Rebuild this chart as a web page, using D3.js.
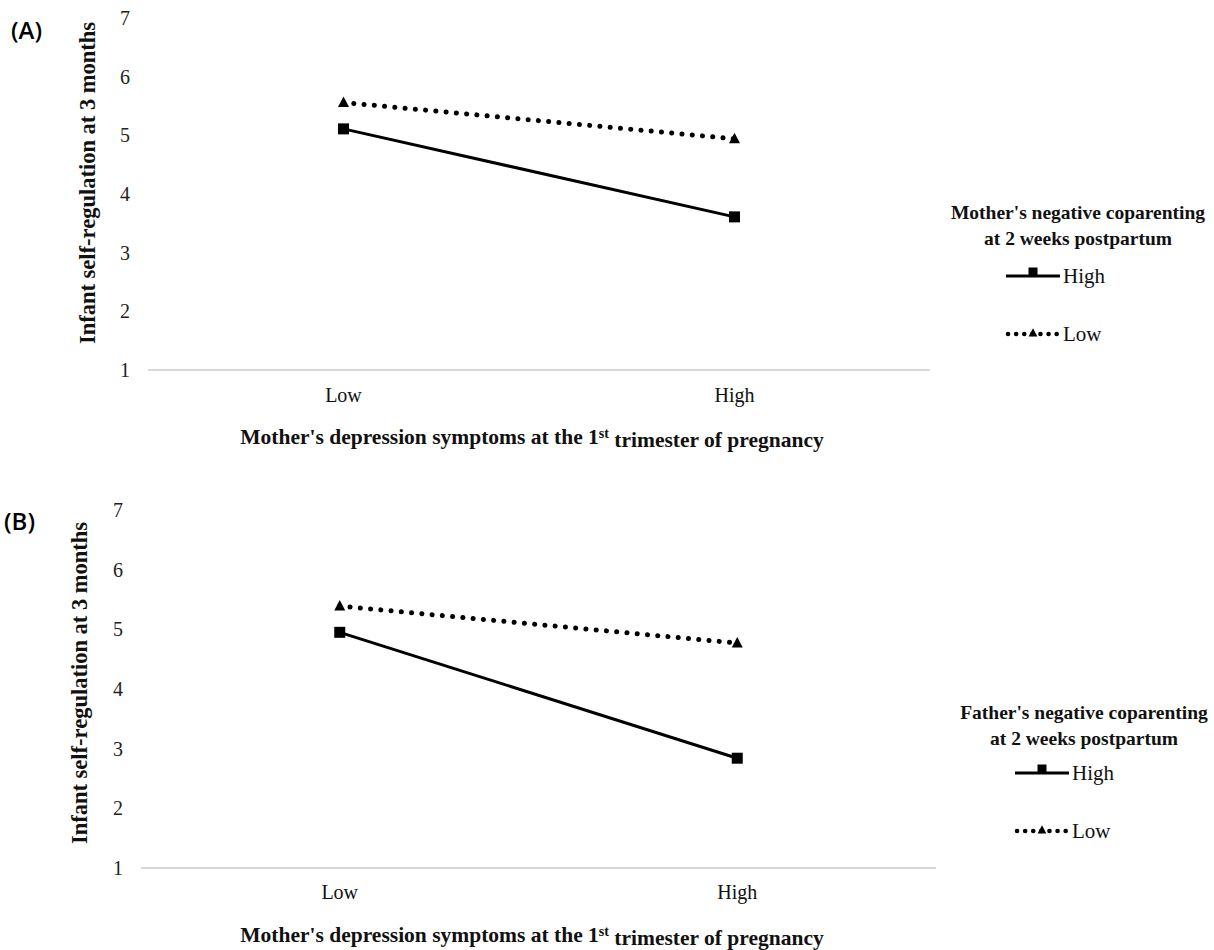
<!DOCTYPE html>
<html>
<head>
<meta charset="utf-8">
<script src="https://cdn.jsdelivr.net/npm/d3@7/dist/d3.min.js"></script>
<style>
  html, body { margin: 0; padding: 0; background: #fff; }
  svg { display: block; }
</style>
</head>
<body>
<script>
// ---- data ----
const categories = ["Low", "High"];
const yTicks = [1, 2, 3, 4, 5, 6, 7];
const seriesNames = ["High", "Low"];
const panelA_high = [5.11, 3.61];
const panelA_low = [5.56, 4.94];
const panelB_high = [4.95, 2.84];
const panelB_low = [5.39, 4.77];
const panelLabels = ["(A)", "(B)"];
const legendTitleA = ["Mother's negative coparenting", "at 2 weeks postpartum"];
const legendTitleB = ["Father's negative coparenting", "at 2 weeks postpartum"];
const yTitle = "Infant self-regulation at 3 months";
const xTitleParts = ["Mother's depression symptoms at the 1", "st", " trimester of pregnancy"];

// ---- layout ----
const SERIF = "'Liberation Serif', 'Times New Roman', serif";
const W = 1214, H = 950;
const svg = d3.select("body").append("svg").attr("width", W).attr("height", H);

const panels = [
  { label: panelLabels[0], high: panelA_high, low: panelA_low, legend: legendTitleA,
    x0: 148, x1: 930, yTop: 18, yBot: 370, tickX: 125, yTitleX: 88, yTitleC: 183,
    labelX: 11, labelY: 39, catY: 402, titleY: 444, titleX: 532,
    legX: 1078, legY: 219, legLineX: 1006, legHighY: 276, legLowY: 334 },
  { label: panelLabels[1], high: panelB_high, low: panelB_low, legend: legendTitleB,
    x0: 141, x1: 936, yTop: 510, yBot: 868, tickX: 118, yTitleX: 80, yTitleC: 683,
    labelX: 4, labelY: 530, catY: 899, titleY: 942, titleX: 532,
    legX: 1084, legY: 719, legLineX: 1015, legHighY: 773, legLowY: 831 }
];

function trianglePath(cx, cy, s) {
  return `M${cx},${cy - s * 0.6}L${cx + s * 0.55},${cy + s * 0.45}L${cx - s * 0.55},${cy + s * 0.45}Z`;
}

panels.forEach(p => {
  const g = svg.append("g");
  const x = d3.scaleBand().domain(categories).range([p.x0, p.x1]);
  const cx = c => x(c) + x.bandwidth() / 2;
  const y = d3.scaleLinear().domain([1, 7]).range([p.yBot, p.yTop]);

  // panel label
  g.append("text").attr("x", p.labelX).attr("y", p.labelY)
    .attr("font-family", "'Open Sans', 'Noto Sans', sans-serif")
    .attr("font-size", 24).attr("font-weight", 600).attr("fill", "#000").text(p.label);

  // y tick labels
  g.selectAll(".yt").data(yTicks).enter().append("text")
    .attr("x", p.tickX).attr("y", d => y(d)).attr("dy", "0.35em")
    .attr("text-anchor", "middle").attr("font-family", SERIF).attr("font-size", 20).attr("fill", "#222")
    .text(d => d);

  // x axis line
  g.append("line").attr("x1", p.x0).attr("x2", p.x1)
    .attr("y1", y(1)).attr("y2", y(1))
    .attr("stroke", "#d9d9d9").attr("stroke-width", 2);

  // category labels
  g.selectAll(".xc").data(categories).enter().append("text")
    .attr("x", d => cx(d)).attr("y", p.catY)
    .attr("text-anchor", "middle").attr("font-family", SERIF).attr("font-size", 20).attr("fill", "#111").text(d => d);

  // x title
  const xt = g.append("text").attr("x", p.titleX).attr("y", p.titleY)
    .attr("text-anchor", "middle").attr("font-family", SERIF).attr("font-size", 21.5)
    .attr("font-weight", "bold").attr("fill", "#111");
  xt.append("tspan").text(xTitleParts[0]);
  xt.append("tspan").attr("dy", "-0.45em").attr("font-size", 14).text(xTitleParts[1]);
  xt.append("tspan").attr("dy", "0.45em").text(xTitleParts[2]);

  // y title
  g.append("text")
    .attr("transform", `translate(${p.yTitleX + 7},${p.yTitleC}) rotate(-90)`)
    .attr("text-anchor", "middle").attr("font-family", SERIF).attr("font-size", 22.5)
    .attr("font-weight", "bold").attr("fill", "#111")
    .text(yTitle);

  // lines
  const line = d3.line().x((d, i) => cx(categories[i])).y(d => y(d));
  g.append("path").datum(p.low).attr("d", line)
    .attr("fill", "none").attr("stroke", "#000").attr("stroke-width", 5)
    .attr("stroke-linecap", "round").attr("stroke-dasharray", "0.1 10.2");
  g.append("path").datum(p.high).attr("d", line)
    .attr("fill", "none").attr("stroke", "#000").attr("stroke-width", 3);

  // markers
  g.selectAll(".sq").data(p.high).enter().append("rect")
    .attr("x", (d, i) => cx(categories[i]) - 5.5).attr("y", d => y(d) - 5.5)
    .attr("width", 11).attr("height", 11).attr("fill", "#000");
  g.selectAll(".tr").data(p.low).enter().append("path")
    .attr("d", (d, i) => trianglePath(cx(categories[i]), y(d), 10)).attr("fill", "#000");

  // legend
  p.legend.forEach((t, i) => {
    g.append("text").attr("x", p.legX).attr("y", p.legY + i * 26)
      .attr("text-anchor", "middle").attr("font-family", SERIF).attr("font-size", 19.5)
      .attr("font-weight", "bold").attr("fill", "#111").text(t);
  });
  const lx0 = p.legLineX, lx1 = p.legLineX + 54, lmid = (lx0 + lx1) / 2;
  g.append("line").attr("x1", lx0).attr("x2", lx1).attr("y1", p.legHighY).attr("y2", p.legHighY)
    .attr("stroke", "#000").attr("stroke-width", 3);
  g.append("rect").attr("x", lmid - 4.5).attr("y", p.legHighY - 8.5).attr("width", 9).attr("height", 9).attr("fill", "#000");
  g.append("text").attr("x", lx1 + 3).attr("y", p.legHighY).attr("dy", "0.35em")
    .attr("font-family", SERIF).attr("font-size", 21).attr("fill", "#111").text(seriesNames[0]);

  g.append("line").attr("x1", lx0 + 2).attr("x2", lx1).attr("y1", p.legLowY).attr("y2", p.legLowY)
    .attr("stroke", "#000").attr("stroke-width", 4.5).attr("stroke-linecap", "round")
    .attr("stroke-dasharray", "0.1 8");
  g.append("path").attr("d", trianglePath(lmid, p.legLowY - 1, 8)).attr("fill", "#000");
  g.append("text").attr("x", lx1 + 3).attr("y", p.legLowY).attr("dy", "0.35em")
    .attr("font-family", SERIF).attr("font-size", 21).attr("fill", "#111").text(seriesNames[1]);
});
</script>
</body>
</html>
